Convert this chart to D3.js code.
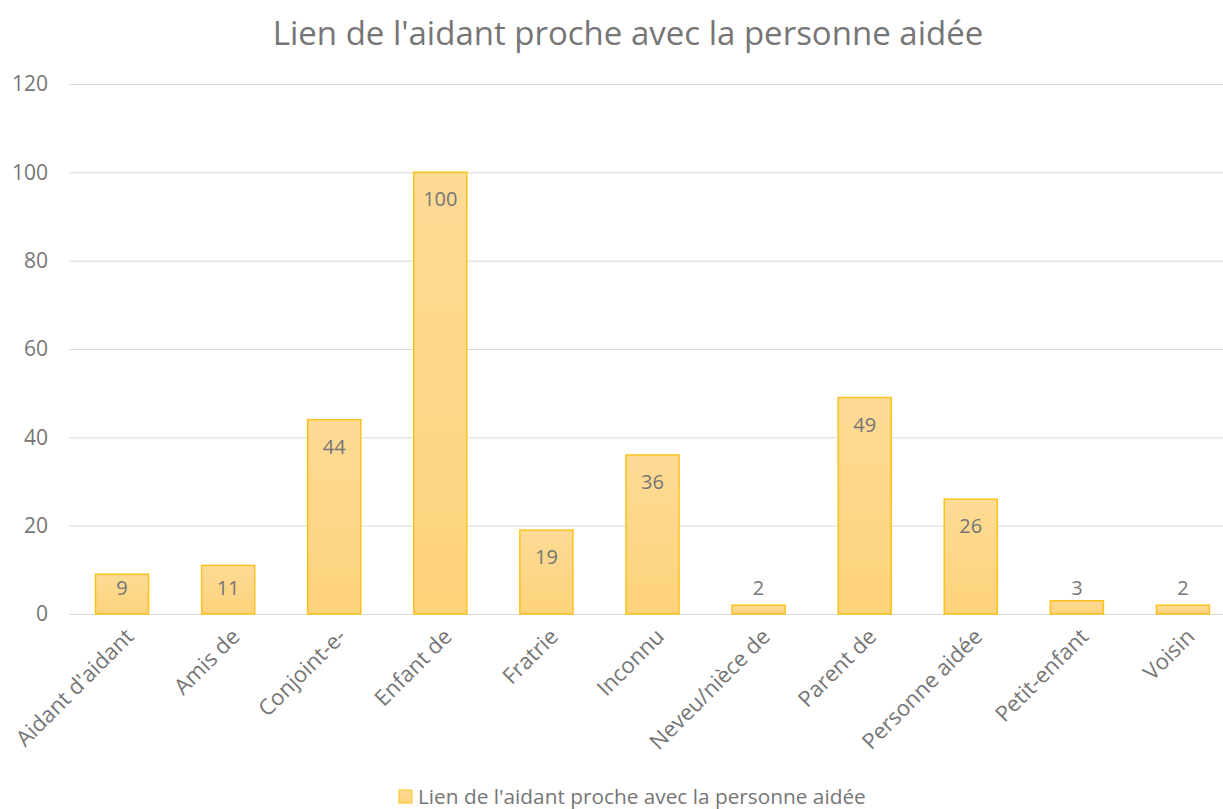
<!DOCTYPE html>
<html>
<head>
<meta charset="utf-8">
<script src="https://cdn.jsdelivr.net/npm/d3@7"></script>
<style>
  body { margin: 0; background: #fff; }
  svg text { font-family: "Open Sans", "Noto Sans", sans-serif; fill: #767676; }
</style>
</head>
<body>
<div id="chart"></div>
<script>
// data
const categories = ["Aidant d'aidant", "Amis de", "Conjoint-e-", "Enfant de", "Fratrie", "Inconnu",
  "Neveu/nièce de", "Parent de", "Personne aidée", "Petit-enfant", "Voisin"];
const values = [9, 11, 44, 100, 19, 36, 2, 49, 26, 3, 2];
const yTicks = [0, 20, 40, 60, 80, 100, 120];
const chartTitle = "Lien de l'aidant proche avec la personne aidée";
const seriesName = "Lien de l'aidant proche avec la personne aidée";

const data = categories.map((c, i) => ({ name: c, value: values[i] }));

const width = 1223, height = 809;
const margin = { top: 84, right: 0, bottom: 195, left: 69 };

const svg = d3.select("#chart")
  .append("svg")
  .attr("width", width)
  .attr("height", height);

// bar gradient (lighter on top)
const grad = svg.append("defs").append("linearGradient")
  .attr("id", "barGrad")
  .attr("x1", 0).attr("y1", 0).attr("x2", 0).attr("y2", 1);
grad.append("stop").attr("offset", "0%").attr("stop-color", "#fddb96");
grad.append("stop").attr("offset", "100%").attr("stop-color", "#fdd27a");

// the plot area runs a bit past the right edge of the picture
const x = d3.scaleBand()
  .domain(categories)
  .range([margin.left, 1236])
  .paddingInner(0.5)
  .paddingOuter(0.25);

const y = d3.scaleLinear()
  .domain([0, 120])
  .range([height - margin.bottom, margin.top]);

// title
svg.append("text")
  .attr("x", 628)
  .attr("y", 45)
  .attr("text-anchor", "middle")
  .style("font-size", "33px")
  .text(chartTitle);

// gridlines
svg.append("g")
  .selectAll("line")
  .data(yTicks)
  .enter()
  .append("line")
  .attr("x1", margin.left)
  .attr("x2", width - margin.right)
  .attr("y1", d => y(d) + 0.5)
  .attr("y2", d => y(d) + 0.5)
  .attr("stroke", "#d9d9d9")
  .attr("stroke-width", 1);

// y axis labels
const yAxis = svg.append("g")
  .attr("transform", `translate(${margin.left - 21},0)`)
  .call(d3.axisLeft(y).tickValues(yTicks).tickSize(0).tickPadding(0));
yAxis.select(".domain").remove();
yAxis.selectAll("text")
  .style("font-size", "21px")
  .attr("fill", "#767676");

// bars
svg.selectAll(".bar")
  .data(data)
  .enter()
  .append("rect")
  .attr("class", "bar")
  .attr("x", d => x(d.name))
  .attr("y", d => y(d.value))
  .attr("width", x.bandwidth())
  .attr("height", d => y(0) - y(d.value))
  .attr("fill", "url(#barGrad)")
  .attr("stroke", "#fcc21b")
  .attr("stroke-width", 1.5);

// value labels
svg.selectAll(".bar-label")
  .data(data)
  .enter()
  .append("text")
  .attr("class", "bar-label")
  .attr("x", d => x(d.name) + x.bandwidth() / 2)
  .attr("y", d => Math.min(y(d.value) + 27, y(0) - 26))
  .attr("dy", ".35em")
  .attr("text-anchor", "middle")
  .style("font-size", "20px")
  .text(d => d.value);

// x axis labels, rotated
const xAxis = svg.append("g")
  .attr("transform", `translate(0,${y(0)})`)
  .call(d3.axisBottom(x).tickSize(0).tickPadding(0));
xAxis.select(".domain").remove();
xAxis.selectAll("text")
  .style("font-size", "22px")
  .attr("fill", "#767676")
  .attr("text-anchor", "end")
  .attr("dy", 0)
  .attr("y", 0)
  .attr("transform", "translate(13,24) rotate(-45)");

// legend
const legend = svg.append("g").attr("transform", "translate(399,790)");
legend.append("rect")
  .attr("width", 13).attr("height", 13)
  .attr("fill", "url(#barGrad)")
  .attr("stroke", "#fcc21b")
  .attr("stroke-width", 1);
legend.append("text")
  .attr("x", 19)
  .attr("y", 7)
  .attr("dy", ".35em")
  .style("font-size", "20.8px")
  .text(seriesName);
</script>
</body>
</html>
